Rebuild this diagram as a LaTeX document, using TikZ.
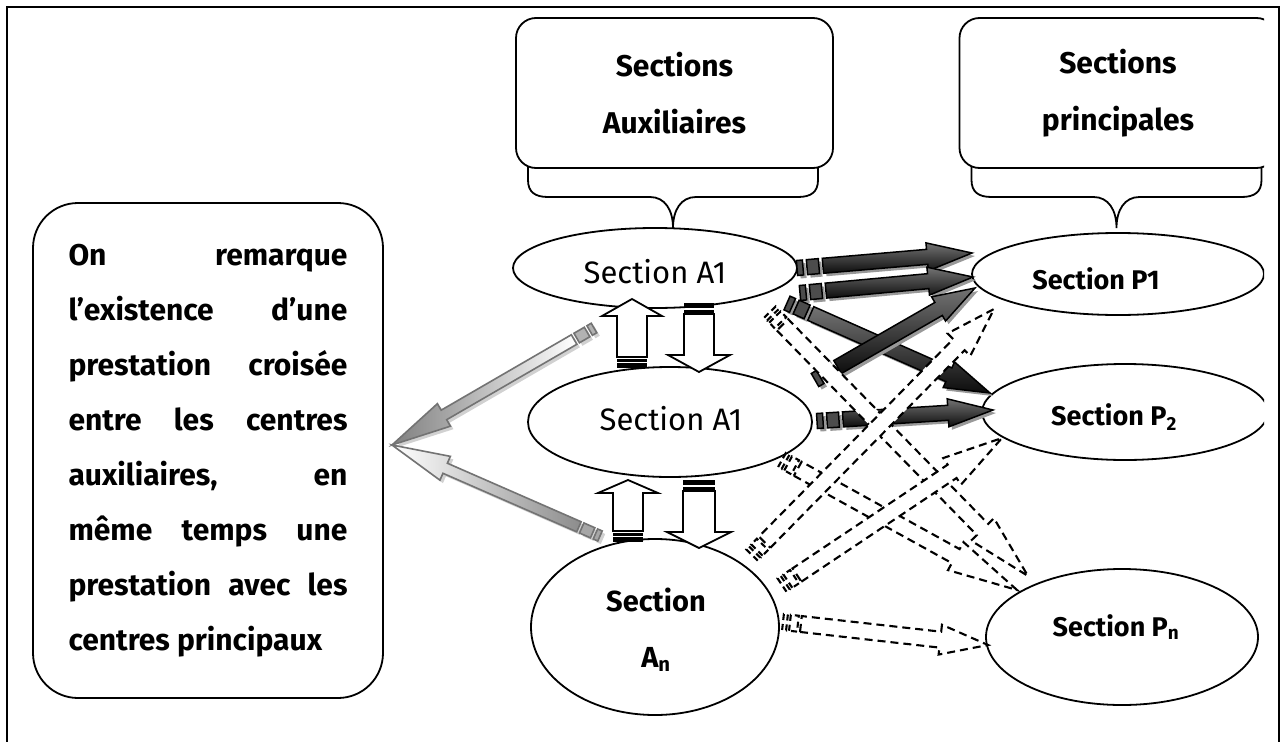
\documentclass[tikz,border=0pt]{standalone}
\usepackage{fontspec}
\setmainfont{Fira Sans}
\usetikzlibrary{calc,shapes.geometric}

% block arrow: #1 kind, #2 from, #3 to, #4 half shaft, #5 half head, #6 head length, #7 stripe1 end, #8 stripe2 start, #9 stripe2 end
\newcommand\blockarr[9]{%
  \path let \p1=(#2), \p2=(#3) in \pgfextra{%
    \pgfmathsetmacro\baAngTmp{atan2(\y2-\y1,\x2-\x1)}%
    \pgfmathsetmacro\baLenTmp{veclen(\x2-\x1,\y2-\y1)}%
    \global\let\baAng\baAngTmp\global\let\baLen\baLenTmp};%
  \pgfmathsetmacro\baShaftStart{#9+#8-#7}%
  \pgfmathsetmacro\baHeadBase{\baLen-#6}%
  \begin{scope}[shift={(#2)},xshift=3pt,yshift=-3pt,rotate=\baAng]
    \path[#1 shadow] (0pt,-#4pt) rectangle (#7pt,#4pt);
    \path[#1 shadow] (#8pt,-#4pt) rectangle (#9pt,#4pt);
    \path[#1 shadow] (\baShaftStart pt,-#4pt) -- (\baHeadBase pt,-#4pt) -- (\baHeadBase pt,-#5pt) -- (\baLen pt,0pt) -- (\baHeadBase pt,#5pt) -- (\baHeadBase pt,#4pt) -- (\baShaftStart pt,#4pt) -- cycle;
  \end{scope}
  \begin{scope}[shift={(#2)},rotate=\baAng]
    \path[#1 stripe] (0pt,-#4pt) rectangle (#7pt,#4pt);
    \path[#1 stripe] (#8pt,-#4pt) rectangle (#9pt,#4pt);
    \path[#1 shaft] (\baShaftStart pt,-#4pt) -- (\baHeadBase pt,-#4pt) -- (\baHeadBase pt,-#5pt) -- (\baLen pt,0pt) -- (\baHeadBase pt,#5pt) -- (\baHeadBase pt,#4pt) -- (\baShaftStart pt,#4pt) -- cycle;
  \end{scope}}

\tikzset{
  bl/.style={draw=black, line width=1.8pt},
  ell/.style={ellipse, draw=black, line width=1.8pt, fill=white, inner sep=0pt},
  hbox/.style={draw=black, line width=1.8pt, rounded corners=20pt, fill=white,
    minimum width=317pt, minimum height=150pt, inner sep=0pt, align=center,
    font=\bfseries\fontsize{30}{57}\selectfont},
  regtxt/.style={font=\fontsize{31}{36}\selectfont, inner sep=0pt},
  boldtxt/.style={font=\bfseries\fontsize{29}{56}\selectfont, inner sep=0pt, align=center},
  ptxt/.style={font=\bfseries\fontsize{27}{32}\selectfont, inner sep=0pt},
  notebox/.style={draw=black, line width=1.8pt, rounded corners=45pt, fill=white,
    minimum width=350pt, minimum height=495pt, inner sep=0pt, align=left,
    font=\bfseries\fontsize{30}{55}\selectfont},
  white shaft/.style={draw=black, line width=1.8pt, fill=white, line join=miter},
  white stripe/.style={fill=black},
  white shadow/.style={},
  dark shaft/.style={draw=black, line width=1.5pt, top color=black!55, bottom color=black!95},
  dark stripe/.style={draw=black, line width=1.5pt, fill=black!70},
  dark shadow/.style={fill=black!40},
  grayA shaft/.style={draw=black!55, line width=1.6pt, left color=black!50, right color=white},
  grayA stripe/.style={draw=black!55, line width=1.6pt, fill=black!30},
  grayA shadow/.style={fill=black!18},
  grayB shaft/.style={draw=black!55, line width=1.6pt, left color=white, right color=black!45},
  grayB stripe/.style={draw=black!55, line width=1.6pt, fill=black!35},
  grayB shadow/.style={fill=black!18},
  dash shaft/.style={draw=black, line width=2.1pt, dash pattern=on 8pt off 5pt, fill=white},
  dash stripe/.style={draw=black, line width=2.1pt, dash pattern=on 6pt off 4pt},
  dash shadow/.style={},
}

\begin{document}
\begin{tikzpicture}[x=1pt,y=-1pt]
\useasboundingbox (0,0) rectangle (1286,742);
\fill[white] (0,0) rectangle (1286,742);
\draw[line width=2.5pt] (7,742) -- (7,7) -- (1279,7) -- (1279,742);

% left note
\node[notebox] (note) at (208,450.5) {%
\makebox[279pt][s]{On remarque}\\
\makebox[279pt][s]{l’existence d’une}\\
\makebox[279pt][s]{prestation croisée}\\
\makebox[279pt][s]{entre les centres}\\
\makebox[279pt][s]{auxiliaires, en}\\
\makebox[279pt][s]{même temps une}\\
\makebox[279pt][s]{prestation avec les}\\
\makebox[279pt][l]{centres principaux}};

% header A
\draw[bl] (528,165) -- (528,180) .. controls (528,192) and (535,197) .. (548,197) -- (650,197)
  .. controls (665,197) and (673,210) .. (673,228) .. controls (673,210) and (681,197) .. (696,197)
  -- (798,197) .. controls (811,197) and (818,192) .. (818,180) -- (818,165);
\node[hbox] (boxA) at (674.5,93) {Sections\\Auxiliaires};

% left ellipses
\node[ell, minimum width=284pt, minimum height=80pt] (A1) at (655,268) {};
\node[regtxt] (tA1) at (655,272) {Section A1};
\node[ell, minimum width=284pt, minimum height=110pt] (A2) at (670,422) {};
\node[regtxt] (tA2) at (671,419) {Section A1};
\node[ell, minimum width=248pt, minimum height=176pt] (An) at (655,627) {};
\node[boldtxt] (tAn) at (656,630) {Section\\A\textsubscript{n}};

% right column (clipped)
\begin{scope}
\clip (0,0) rectangle (1264,742);
\begin{scope}[shift={(443.5,0)}]
\draw[bl] (528,165) -- (528,180) .. controls (528,192) and (535,197) .. (548,197) -- (650,197)
  .. controls (665,197) and (673,210) .. (673,228) .. controls (673,210) and (681,197) .. (696,197)
  -- (798,197) .. controls (811,197) and (818,192) .. (818,180) -- (818,165);
\end{scope}
\node[hbox] (boxP) at (1118,93) {Sections\\principales};
\node[ell, minimum width=292pt, minimum height=82pt] (P1) at (1118,274) {};
\node[ell, minimum width=286pt, minimum height=96pt] (P2) at (1125,412) {};
\node[ell, minimum width=272pt, minimum height=136pt] (Pn) at (1122,637) {};
\end{scope}
\node[ptxt] (tP1) at (1096,279) {Section P1};
\node[ptxt] (tP2) at (1114,417) {Section P\textsubscript{2}};
\node[ptxt] (tPn) at (1116,627) {Section P\textsubscript{n}};

% arrow end points
\coordinate (w1s) at (632,368); \coordinate (w1e) at (632,299);
\coordinate (w2s) at (699,303); \coordinate (w2e) at (699,372);
\coordinate (w3s) at (628,542); \coordinate (w3e) at (628,480);
\coordinate (w4s) at (699,480); \coordinate (w4e) at (699,548);
\coordinate (gtip) at (392,445);
\coordinate (g1s) at (594,328); \coordinate (g2s) at (600,536);
\coordinate (k1s) at (797,268); \coordinate (k1e) at (972,253);
\coordinate (k2s) at (800,293); \coordinate (k2e) at (973,277);
\coordinate (k3s) at (787,303); \coordinate (k3e) at (990,393);
\coordinate (k4s) at (815,380); \coordinate (k4e) at (975,288);
\coordinate (k5s) at (817,421); \coordinate (k5e) at (993,410);
\coordinate (d1s) at (770,312); \coordinate (d1e) at (1028,576);
\coordinate (d2s) at (782,460); \coordinate (d2e) at (1017,590);
\coordinate (d3s) at (752,555); \coordinate (d3e) at (994,309);
\coordinate (d4s) at (782,585); \coordinate (d4e) at (1002,438);
\coordinate (d5s) at (783,622); \coordinate (d5e) at (988,645);

% white up/down arrows
\blockarr{white}{w1s}{w1e}{15}{30}{17}{5}{6.5}{9.5}
\blockarr{white}{w2s}{w2e}{15}{31}{17}{5}{6.5}{9.5}
\blockarr{white}{w3s}{w3e}{15}{30}{13}{5}{6.5}{9.5}
\blockarr{white}{w4s}{w4e}{16}{32}{16}{5}{6.5}{9.5}

% gray arrows to the note
\blockarr{grayA}{g1s}{gtip}{5.5}{13}{60}{5}{8}{20}
\blockarr{grayB}{g2s}{gtip}{5.5}{13}{58}{5}{8}{20}

% dark arrows
\blockarr{dark}{k1s}{k1e}{7.5}{14}{45}{6}{10}{22}
\blockarr{dark}{k2s}{k2e}{7.5}{14}{45}{6}{10}{22}
\blockarr{dark}{k3s}{k3e}{7.5}{14}{45}{6}{10}{22}
\blockarr{dark}{k4s}{k4e}{7.5}{14}{42}{6}{10}{22}
\blockarr{dark}{k5s}{k5e}{7.5}{14}{45}{6}{10}{22}

% dashed arrows
\blockarr{dash}{d1s}{d1e}{8}{16}{65}{4}{7}{15}
\blockarr{dash}{d2s}{d2e}{8}{16}{70}{4}{7}{15}
\blockarr{dash}{d4s}{d4e}{8}{16}{60}{4}{7}{15}
\blockarr{dash}{d5s}{d5e}{8}{15}{48}{4}{7}{15}
\blockarr{dash}{d3s}{d3e}{8}{16}{50}{4}{7}{15}
\end{tikzpicture}
\end{document}
